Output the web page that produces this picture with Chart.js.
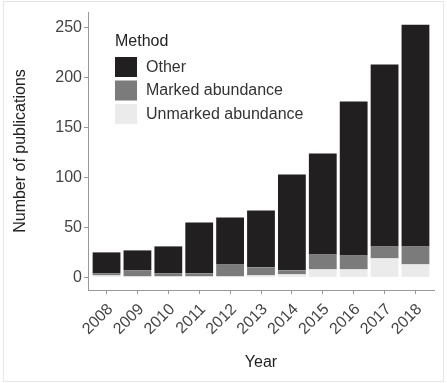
<!DOCTYPE html>
<html>
<head>
<meta charset="utf-8">
<script src="https://cdn.jsdelivr.net/npm/chart.js@4/dist/chart.umd.min.js"></script>
<style>
  html, body { margin: 0; padding: 0; background: #ffffff; }
  #wrap { position: relative; width: 447px; height: 383px; overflow: hidden; }
  #c { position: absolute; left: 0; top: 0; }
  #frame { position: absolute; left: 3px; top: 1px; width: 439px; height: 379px;
           border: 1px solid #e6e6e6; pointer-events: none; }
</style>
</head>
<body>
<div id="wrap">
  <canvas id="c" width="447" height="383"></canvas>
  <div id="frame"></div>
</div>
<script>
// Publications per year, split by survey method
const years = ['2008','2009','2010','2011','2012','2013','2014','2015','2016','2017','2018'];
const unmarked = [2, 1, 1, 1, 1, 2, 3, 8, 8, 19, 13];
const marked   = [2, 6, 3, 3, 12, 8, 4, 15, 14, 12, 18];
const other    = [21, 20, 27, 51, 47, 57, 96, 101, 154, 182, 222];
const yTicks   = [0, 50, 100, 150, 200, 250];

const FONT = "'Liberation Sans', Arial, Helvetica, sans-serif";

const toPoints = arr => arr.map((v, i) => ({ x: i, y: v }));

// Legend drawn inside the plot panel, ggplot style
const panelLegend = {
  id: 'panelLegend',
  afterDraw(chart) {
    const ctx = chart.ctx;
    ctx.save();
    ctx.textBaseline = 'middle';
    ctx.textAlign = 'left';
    ctx.fillStyle = '#222';
    ctx.font = '16px ' + FONT;
    ctx.fillText('Method', 115, 42);
    const items = chart.data.datasets.slice().reverse();
    items.forEach((ds, i) => {
      const top = 57 + i * 23.5;
      ctx.fillStyle = ds.backgroundColor;
      ctx.fillRect(115, top, 22, 20);
      ctx.fillStyle = '#333';
      ctx.fillText(ds.label, 146, top + 10.5);
    });
    ctx.restore();
  }
};

new Chart(document.getElementById('c'), {
  type: 'bar',
  data: {
    datasets: [
      { label: 'Unmarked abundance', data: toPoints(unmarked), backgroundColor: '#ebebeb' },
      { label: 'Marked abundance',   data: toPoints(marked),   backgroundColor: '#7b7b7b' },
      { label: 'Other',              data: toPoints(other),    backgroundColor: '#221f20' }
    ]
  },
  options: {
    responsive: false,
    animation: false,
    devicePixelRatio: 1,
    layout: { padding: { left: 0, top: 12, right: 13, bottom: 0 } },
    datasets: { bar: { categoryPercentage: 1, barPercentage: 0.9, borderWidth: 0 } },
    plugins: { legend: { display: false }, tooltip: { enabled: false } },
    scales: {
      x: {
        type: 'linear',
        stacked: true,
        offset: false,
        min: -0.6,
        max: years.length - 0.4,
        afterBuildTicks: s => { s.ticks = years.map((_, i) => ({ value: i })); },
        afterFit: s => { s.height = 93; },
        ticks: {
          callback: v => years[v],
          minRotation: 45,
          maxRotation: 45,
          padding: 6,
          labelOffset: 4,
          color: '#444',
          font: { family: FONT, size: 16 }
        },
        grid: { offset: false, drawOnChartArea: false, drawTicks: true, tickLength: 4, color: '#999' },
        border: { display: true, color: '#999', width: 1 },
        title: {
          display: true, text: 'Year', color: '#222',
          font: { family: FONT, size: 16 },
          padding: { top: 0, bottom: 11 }
        }
      },
      y: {
        stacked: true,
        min: -12.65,
        max: 265.65,
        afterBuildTicks: s => { s.ticks = yTicks.map(v => ({ value: v })); },
        afterFit: s => { s.width = 88; },
        ticks: {
          padding: 2,
          color: '#444',
          font: { family: FONT, size: 16 }
        },
        grid: { drawOnChartArea: false, drawTicks: true, tickLength: 4, color: '#999' },
        border: { display: true, color: '#999', width: 1 },
        title: {
          display: true, text: 'Number of publications', color: '#222',
          font: { family: FONT, size: 16 },
          padding: { top: 11, bottom: 0 }
        }
      }
    }
  },
  plugins: [panelLegend]
});
</script>
</body>
</html>
